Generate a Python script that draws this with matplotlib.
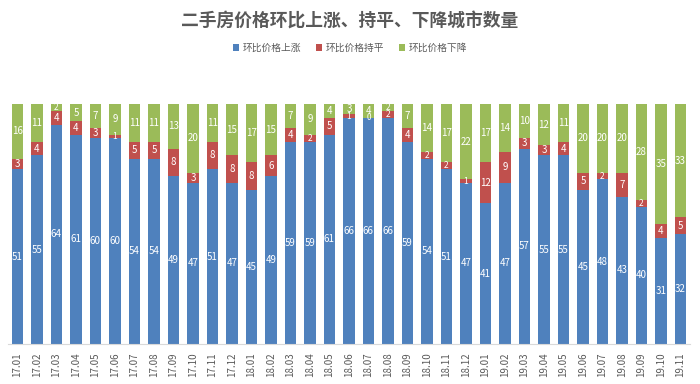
import numpy as np
import matplotlib
matplotlib.use("Agg")
import matplotlib.pyplot as plt

plt.rcParams['font.family'] = ['Noto Sans CJK SC', 'DejaVu Sans']

months = ["17.01", "17.02", "17.03", "17.04", "17.05", "17.06", "17.07", "17.08", "17.09",
          "17.10", "17.11", "17.12", "18.01", "18.02", "18.03", "18.04", "18.05", "18.06",
          "18.07", "18.08", "18.09", "18.10", "18.11", "18.12", "19.01", "19.02", "19.03",
          "19.04", "19.05", "19.06", "19.07", "19.08", "19.09", "19.10", "19.11"]
up = [51, 55, 64, 61, 60, 60, 54, 54, 49, 47, 51, 47, 45, 49, 59, 59, 61, 66,
      66, 66, 59, 54, 51, 47, 41, 47, 57, 55, 55, 45, 48, 43, 40, 31, 32]
flat = [3, 4, 4, 4, 3, 1, 5, 5, 8, 3, 8, 8, 8, 6, 4, 2, 5, 1,
        0, 2, 4, 2, 2, 1, 12, 9, 3, 3, 4, 5, 2, 7, 2, 4, 5]
down = [16, 11, 2, 5, 7, 9, 11, 11, 13, 20, 11, 15, 17, 15, 7, 9, 4, 3,
        4, 2, 7, 14, 17, 22, 17, 14, 10, 12, 11, 20, 20, 20, 28, 35, 33]
names = ["环比价格上涨", "环比价格持平", "环比价格下降"]
colors = ["#4F81BD", "#C0504D", "#9BBB59"]

fig = plt.figure(figsize=(7, 3.84), dpi=100)
ax = fig.add_axes([0.011, 0.104, 0.975, 0.625])

x = np.arange(len(months))
bottom = np.zeros(len(months))
for vals, name, col in zip([up, flat, down], names, colors):
    vals = np.array(vals)
    ax.bar(x, vals, width=0.6, bottom=bottom, color=col, label=name)
    for xi, b, v in zip(x, bottom, vals):
        # tiny segments get a slightly smaller label
        fs = 6 if v <= 2 else 7
        ax.text(xi, b + v / 2, str(v), ha="center", va="center",
                color="white", fontsize=fs)
    bottom = bottom + vals

ax.set_xlim(-0.5, len(months) - 0.5)
ax.set_ylim(0, 70)
ax.set_yticks([])
ax.set_xticks(x)
ax.set_xticklabels(months, rotation=90, fontsize=7, color="#595959")
ax.tick_params(axis="x", length=0, pad=6)
for s in ["top", "right", "left"]:
    ax.spines[s].set_visible(False)
ax.spines["bottom"].set_color("#D9D9D9")

fig.text(0.5, 0.945, "二手房价格环比上涨、持平、下降城市数量", ha="center", va="center",
         fontsize=12.8, fontweight="bold", color="#595959")
fig.legend(loc="center", bbox_to_anchor=(0.5, 0.875), ncol=3, frameon=False,
           fontsize=7, handlelength=0.6, handleheight=0.6, columnspacing=1.5,
           handletextpad=0.4, labelcolor="#595959")

fig.savefig("out.png", dpi=100)
